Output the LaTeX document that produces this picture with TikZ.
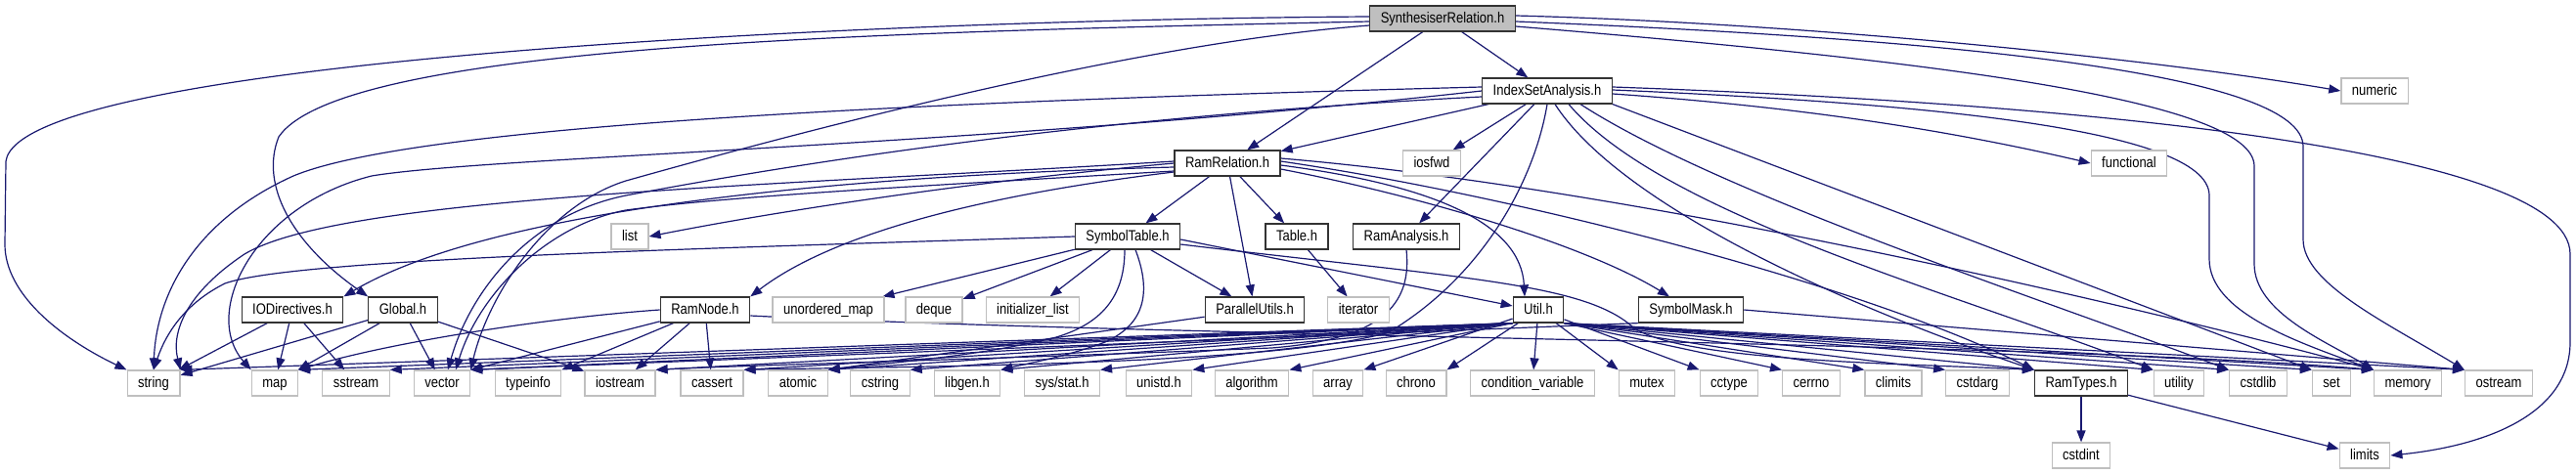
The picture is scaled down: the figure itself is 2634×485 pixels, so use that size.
\documentclass[tikz,border=0pt]{standalone}
\usepackage{fontspec}
\setmainfont{Liberation Sans}[FakeStretch=0.85]
\usetikzlibrary{arrows.meta}
\definecolor{mblue}{HTML}{191970}
\definecolor{sysgray}{HTML}{BFBFBF}
\newcommand{\dxfont}{\fontsize{15.3}{18}\selectfont}
\pgfdeclarelayer{edges}
\pgfsetlayers{edges,main}
\tikzset{
  base/.style={rectangle, fill=white, line width=1.2pt, minimum height=26pt, inner xsep=11pt, inner ysep=0pt, font=\dxfont, text height=11pt, text depth=3pt},
  loc/.style={base, draw=black!80},
  sys/.style={base, draw=sysgray},
  root/.style={base, draw=black!80, fill=sysgray},
  edge/.style={draw=mblue, line width=1.2pt, -{Triangle[length=12pt,width=9pt]}}
}
\begin{document}
\begin{tikzpicture}[x=1pt,y=-1pt]
\useasboundingbox (0,0) rectangle (2634,485);
% nodes
\node[root] (SR) at (1475,19) {SynthesiserRelation.h};
\node[loc] (IS) at (1582,93) {IndexSetAnalysis.h};
\node[sys] (numeric) at (2428,93) {numeric};
\node[loc] (RR) at (1255,167) {RamRelation.h};
\node[sys] (iosfwd) at (1464,167) {iosfwd};
\node[sys] (functional) at (2177,167) {functional};
\node[sys] (list) at (644,242) {list};
\node[loc] (ST) at (1153,242) {SymbolTable.h};
\node[loc] (Table) at (1326,242) {Table.h};
\node[loc] (RA) at (1438,242) {RamAnalysis.h};
\node[loc] (IOD) at (299,317) {IODirectives.h};
\node[loc] (Global) at (412,317) {Global.h};
\node[loc] (RN) at (721,317) {RamNode.h};
\node[sys] (umap) at (847,317) {unordered\_map};
\node[sys] (deque) at (955,317) {deque};
\node[sys] (ilist) at (1056,317) {initializer\_list};
\node[loc] (PU) at (1283,317) {ParallelUtils.h};
\node[sys] (iterator) at (1389,317) {iterator};
\node[loc] (Util) at (1573,317) {Util.h};
\node[loc] (SM) at (1729,317) {SymbolMask.h};
\node[sys] (string) at (157,392) {string};
\node[sys] (map) at (281,392) {map};
\node[sys] (sstream) at (364,392) {sstream};
\node[sys] (vector) at (452,392) {vector};
\node[sys] (typeinfo) at (540,392) {typeinfo};
\node[sys] (iostream) at (634,392) {iostream};
\node[sys] (cassert) at (728,392) {cassert};
\node[sys] (atomic) at (816,392) {atomic};
\node[sys] (cstring) at (900,392) {cstring};
\node[sys] (libgen) at (989,392) {libgen.h};
\node[sys] (sysstat) at (1086,392) {sys/stat.h};
\node[sys] (unistd) at (1185,392) {unistd.h};
\node[sys] (algorithm) at (1280,392) {algorithm};
\node[sys] (array) at (1368,392) {array};
\node[sys] (chrono) at (1448,392) {chrono};
\node[sys] (condvar) at (1567,392) {condition\_variable};
\node[sys] (mutex) at (1684,392) {mutex};
\node[sys] (cctype) at (1768,392) {cctype};
\node[sys] (cerrno) at (1852,392) {cerrno};
\node[sys] (climits) at (1936,392) {climits};
\node[sys] (cstdarg) at (2022,392) {cstdarg};
\node[loc] (RT) at (2128,392) {RamTypes.h};
\node[sys] (utility) at (2228,392) {utility};
\node[sys] (cstdlib) at (2309,392) {cstdlib};
\node[sys] (set) at (2384,392) {set};
\node[sys] (memory) at (2462,392) {memory};
\node[sys] (ostream) at (2555,392) {ostream};
\node[sys] (cstdint) at (2128,466) {cstdint};
\node[sys] (limits) at (2418,466) {limits};

\begin{pgfonlayer}{edges}
\fill[white] (0,0) rectangle (2634,485);
% SynthesiserRelation.h
\draw[edge] (SR) -- (IS);
\draw[edge] (SR) -- (RR);
\draw[edge] ([yshift=3pt]SR.east) .. controls (1850,24) and (2200,60) .. (numeric.west);
\draw[edge] ([yshift=-3pt]SR.east) .. controls (2000,40) and (2355,75) .. (2355,150) -- (2355,245) .. controls (2355,290) and (2440,330) .. (ostream.north west);
\draw[edge] ([yshift=-8pt]SR.east) .. controls (1950,60) and (2305,100) .. (2305,170) -- (2305,270) .. controls (2305,320) and (2380,350) .. (memory.north west);
\draw[edge] ([yshift=2pt]SR.west) .. controls (900,20) and (20,60) .. (6,165) -- (5,250) .. controls (5,300) and (60,345) .. (string.north west);
\draw[edge] ([yshift=-3pt]SR.west) .. controls (900,33) and (350,45) .. (285,140) .. controls (265,190) and (300,250) .. (Global.north west);
\draw[edge] ([yshift=-7pt]SR.west) .. controls (1150,45) and (800,140) .. (640,185) .. controls (560,210) and (500,300) .. (vector.north east);
% IndexSetAnalysis.h
\draw[edge] (IS) -- (RR);
\draw[edge] (IS) -- (iosfwd);
\draw[edge] (IS) -- (RA);
\draw[edge] ([yshift=4pt]IS.west) .. controls (900,105) and (420,130) .. (300,180) .. controls (200,225) and (160,300) .. (string.north);
\draw[edge] (IS.west) .. controls (1000,150) and (500,160) .. (380,180) .. controls (260,210) and (205,320) .. (map.north west);
\draw[edge] ([yshift=-6pt]IS.west) .. controls (1100,120) and (800,170) .. (640,200) .. controls (540,220) and (480,300) .. ([xshift=6pt]vector.north);
\draw[edge] ([yshift=-3pt]IS.east) .. controls (1850,110) and (2000,135) .. (functional.west);
\draw[edge] ([yshift=4pt]IS.east) .. controls (2100,105) and (2628,150) .. (2628,260) -- (2628,350) .. controls (2628,420) and (2550,455) .. (limits.east);
\draw[edge] ([yshift=1pt]IS.east) .. controls (1950,105) and (2259,130) .. (2259,200) -- (2259,265) .. controls (2259,320) and (2350,350) .. (memory.north west);
\draw[edge] (IS.south east) -- (set.north west);
\draw[edge] (IS.south) .. controls (1570,180) and (1520,280) .. (1420,340) .. controls (1300,375) and (900,375) .. (cassert.north east);
\draw[edge] ([xshift=8pt]IS.south) .. controls (1650,200) and (1850,300) .. (RT.north west);
\draw[edge] ([xshift=22pt]IS.south) .. controls (1700,220) and (2000,300) .. (utility.north west);
\draw[edge] ([xshift=34pt]IS.south) .. controls (1760,200) and (2100,310) .. (cstdlib.north west);
% RamRelation.h
\draw[edge] (RR) -- (ST);
\draw[edge] (RR) -- (Table);
\draw[edge] (RR) -- (PU);
\draw[edge] ([yshift=-2pt]RR.east) .. controls (1470,190) and (1555,230) .. ([xshift=-14pt]Util.north);
\draw[edge] ([yshift=-6pt]RR.east) .. controls (1450,200) and (1620,250) .. ([xshift=-22pt]SM.north);
\draw[edge] ([yshift=2pt]RR.east) .. controls (1550,200) and (1900,290) .. (RT.north west);
\draw[edge] ([yshift=5pt]RR.east) .. controls (1700,195) and (2250,330) .. (memory.north west);
\draw[edge] (RR.west) .. controls (1000,185) and (800,215) .. (list.east);
\draw[edge] ([yshift=-4pt]RR.west) .. controls (850,180) and (500,215) .. (IOD.north east);
\draw[edge] ([yshift=2pt]RR.west) .. controls (800,190) and (350,200) .. (250,260) .. controls (190,300) and (175,340) .. (string.north east);
\draw[edge] ([yshift=-8pt]RR.west) .. controls (950,190) and (750,200) .. (640,215) .. controls (560,230) and (490,300) .. ([xshift=14pt]vector.north);
\draw[edge] ([yshift=-9pt]RR.west) .. controls (1000,200) and (850,240) .. (RN.north east);
% SymbolTable.h
\draw[edge] (ST) -- (umap);
\draw[edge] (ST) -- (deque);
\draw[edge] (ST) -- (ilist);
\draw[edge] (ST) -- (PU);
\draw[edge] ([yshift=-3pt]ST.east) -- ([yshift=4pt]Util.west);
\draw[edge] ([yshift=-8pt]ST.east) .. controls (1500,285) and (1620,290) .. (1670,335) .. controls (1720,370) and (1950,372) .. (RT.north west);
\draw[edge] (ST.west) .. controls (700,255) and (300,265) .. (230,290) .. controls (190,310) and (170,340) .. (string.north);
\draw[edge] ([xshift=-3pt]ST.south) .. controls (1150,300) and (1130,330) .. (1080,345) .. controls (1000,365) and (900,372) .. (atomic.north east);
\draw[edge] ([xshift=8pt]ST.south) .. controls (1178,300) and (1170,332) .. (1130,350) .. controls (1090,365) and (1050,372) .. (libgen.north east);
% others
\draw[edge] (PU) -- (atomic.north east);
\draw[edge] (Table) -- (iterator);
\draw[edge] (RA.south) .. controls (1445,320) and (1400,348) .. (1300,356) .. controls (1000,368) and (750,374) .. (iostream.north east);
\draw[edge] (RN) -- (vector.north east);
\draw[edge] (RN) -- (typeinfo.north east);
\draw[edge] (RN) -- (iostream);
\draw[edge] (RN) -- (cassert);
\draw[edge] (RN.west) .. controls (560,325) and (400,350) .. (map.north east);
\draw[edge] ([yshift=-6pt]RN.east) .. controls (1200,345) and (2100,350) .. (memory.north west);
\draw[edge] (Global) -- (string);
\draw[edge] (Global) -- (map);
\draw[edge] (Global) -- (vector);
\draw[edge] (Global) -- (iostream);
\draw[edge] (IOD) -- (string);
\draw[edge] (IOD) -- (map);
\draw[edge] (IOD) -- (sstream);
\draw[edge] (SM.south west) -- (vector.north east);
\draw[edge] (SM.east) -- (ostream.north west);
\draw[edge] (RT) -- (cstdint);
\draw[edge] (RT) -- (limits);
% Util.h fan
\foreach \tg in {string,map,sstream,vector,iostream,cassert,atomic,cstring,libgen,sysstat,unistd,algorithm}
  {\draw[edge] (Util.south west) -- (\tg.north east);}
\draw[edge] (Util) -- (array.north east);
\draw[edge] (Util) -- (chrono.north east);
\draw[edge] (Util) -- (condvar);
\draw[edge] (Util) -- (mutex.north west);
\draw[edge] (Util) -- (cctype.north west);
\foreach \tg in {cerrno,climits,cstdarg,RT,utility,cstdlib,set,memory,ostream}
  {\draw[edge] (Util.south east) -- (\tg.north west);}
\end{pgfonlayer}
\end{tikzpicture}
\end{document}
